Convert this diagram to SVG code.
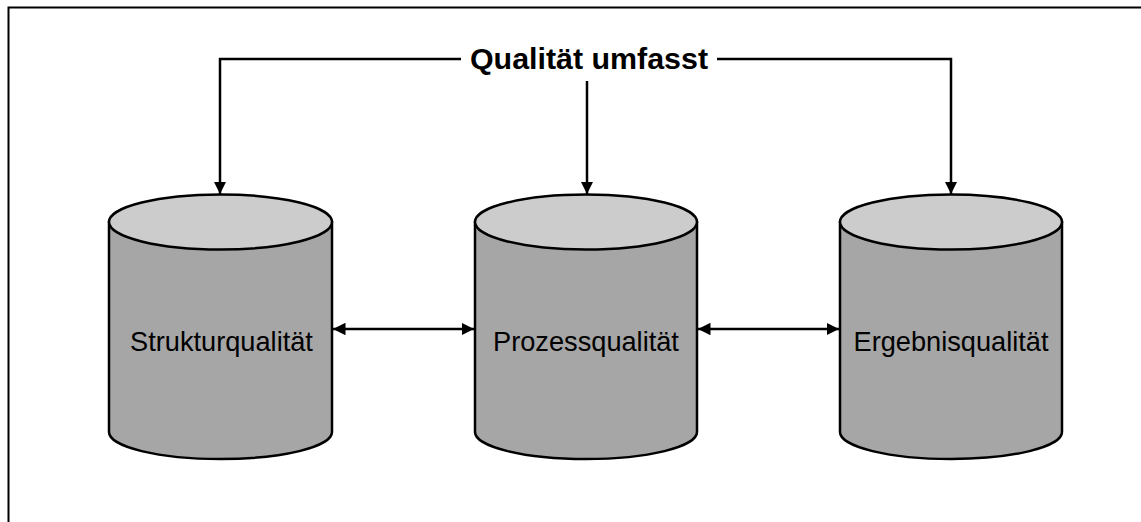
<svg xmlns="http://www.w3.org/2000/svg" width="1141" height="522" viewBox="0 0 1141 522">
<style>
.body{fill:#a6a6a6;stroke:#000;stroke-width:2.5}
.top{fill:#cccccc;stroke:#000;stroke-width:2.5}
.lbl{font-family:"Liberation Sans",Arial,sans-serif;font-size:27.2px;fill:#000;text-anchor:middle}
.title{font-family:"Liberation Sans",Arial,sans-serif;font-size:30.4px;font-weight:bold;fill:#000;text-anchor:middle}
.conn{fill:none;stroke:#000;stroke-width:2.5}
</style>
<defs>
<marker id="ah" viewBox="0 0 10 10" refX="10" refY="5" markerWidth="5" markerHeight="5" orient="auto-start-reverse" markerUnits="strokeWidth">
<path d="M0,0 L10,5 L0,10 z" fill="#000"/>
</marker>
</defs>
<rect x="0" y="0" width="1141" height="522" fill="#fff"/>
<path d="M8.5,522 L8.5,7.5 L1141,7.5" fill="none" stroke="#000" stroke-width="2"/>
<g id="cyl-struktur">
<path class="body" d="M109,222 L109,432 A111.5,27 0 0 0 332,432 L332,222 Z"/>
<ellipse class="top" cx="220.5" cy="222" rx="111.5" ry="27.5"/>
<text class="lbl" x="221.5" y="351">Strukturqualität</text>
</g>
<g id="cyl-prozess">
<path class="body" d="M475,222 L475,432 A111,27 0 0 0 697,432 L697,222 Z"/>
<ellipse class="top" cx="586" cy="222" rx="111" ry="27.5"/>
<text class="lbl" x="586" y="351">Prozessqualität</text>
</g>
<g id="cyl-ergebnis">
<path class="body" d="M840,222 L840,432 A111,27 0 0 0 1062,432 L1062,222 Z"/>
<ellipse class="top" cx="951" cy="222" rx="111" ry="27.5"/>
<text class="lbl" x="951" y="351">Ergebnisqualität</text>
</g>
<g id="title">
<text class="title" x="589" y="69">Qualität umfasst</text>
</g>
<g id="connectors">
<path class="conn" d="M461,59 L220,59 L220,194" marker-end="url(#ah)"/>
<path class="conn" d="M717,59 L951,59 L951,194" marker-end="url(#ah)"/>
<path class="conn" d="M587,81 L587,194" marker-end="url(#ah)"/>
<path class="conn" d="M333,329 L474,329" marker-start="url(#ah)" marker-end="url(#ah)"/>
<path class="conn" d="M698,329 L839,329" marker-start="url(#ah)" marker-end="url(#ah)"/>
</g>
</svg>
